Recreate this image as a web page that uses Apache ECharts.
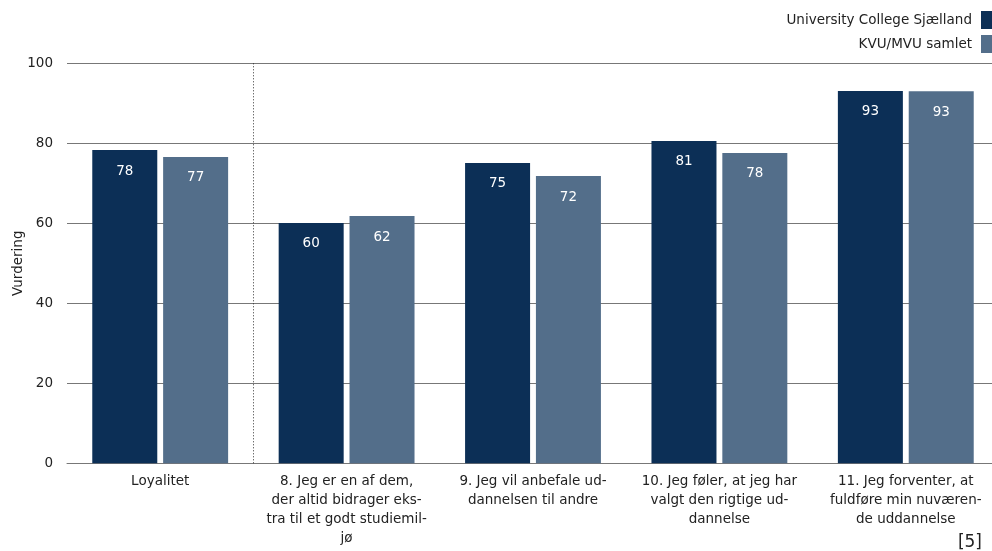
<!DOCTYPE html>
<html>
<head>
<meta charset="utf-8">
<script src="https://cdn.jsdelivr.net/npm/echarts@6/dist/echarts.min.js"></script>
<style>
html,body{margin:0;padding:0;background:#fff;}
#c{width:992px;height:551px;}
</style>
</head>
<body>
<div id="c"></div>
<script>
const categories = [
  'Loyalitet',
  '8. Jeg er en af dem,\nder altid bidrager eks-\ntra til et godt studiemil-\njø',
  '9. Jeg vil anbefale ud-\ndannelsen til andre',
  '10. Jeg føler, at jeg har\nvalgt den rigtige ud-\ndannelse',
  '11. Jeg forventer, at\nfuldføre min nuværen-\nde uddannelse'
];
const seriesNames = ['University College Sjælland', 'KVU/MVU samlet'];
const ucsValues = [78.3, 60.1, 75.1, 80.6, 93.1];
const kvuValues = [76.6, 61.8, 71.8, 77.6, 93.0];
const yTicks = { min: 0, max: 100, interval: 20 };
// separator between the "Loyalitet" summary and the individual questions (category boundary index)
const separatorBoundary = 1;

const FONT = 'DejaVu Sans';
const chart = echarts.init(document.getElementById('c'), null, { renderer: 'canvas' });

const labelCfg = {
  show: true,
  position: 'insideTop',
  distance: 14,
  color: '#ffffff',
  fontFamily: FONT,
  fontSize: 13.5,
  formatter: p => Math.round(p.value)
};

chart.setOption({
  animation: false,
  backgroundColor: '#ffffff',
  textStyle: { fontFamily: FONT },
  legend: {
    orient: 'vertical',
    right: 0,
    top: 11,
    padding: 0,
    align: 'right',
    itemWidth: 11,
    itemHeight: 18,
    itemGap: 6,
    icon: 'rect',
    textStyle: { fontFamily: FONT, fontSize: 13.5, color: '#222', padding: [0, 4, 0, 0] },
    data: seriesNames
  },
  grid: { left: 67, right: -7, top: 63.3, bottom: 87.7, outerBoundsMode: 'none', containLabel: false },
  xAxis: [
    {
      type: 'category',
      data: categories,
      boundaryGap: true,
      axisLine: { show: true, lineStyle: { color: '#777', width: 1 } },
      axisTick: { show: false },
      axisLabel: {
        interval: 0,
        margin: 9,
        color: '#222',
        fontFamily: FONT,
        fontSize: 13.5,
        lineHeight: 19,
        align: 'center'
      },
      splitLine: { show: false }
    },
    {
      type: 'value',
      min: 0,
      max: categories.length,
      show: false,
      splitLine: { show: false }
    }
  ],
  yAxis: {
    type: 'value',
    min: yTicks.min,
    max: yTicks.max,
    interval: yTicks.interval,
    name: 'Vurdering',
    nameLocation: 'middle',
    nameGap: 42,
    nameMoveOverlap: false,
    nameRotate: 90,
    nameTextStyle: { fontFamily: FONT, fontSize: 13.5, color: '#222' },
    axisLine: { show: false },
    axisTick: { show: false },
    axisLabel: { margin: 14, color: '#222', fontFamily: FONT, fontSize: 13.5 },
    splitLine: { show: true, lineStyle: { color: '#777', width: 1 } }
  },
  series: [
    {
      name: seriesNames[0],
      type: 'bar',
      data: ucsValues,
      barWidth: 65,
      barGap: '9%',
      itemStyle: { color: '#0c2f56' },
      label: labelCfg
    },
    {
      name: seriesNames[1],
      type: 'bar',
      data: kvuValues,
      barWidth: 65,
      barGap: '9%',
      itemStyle: { color: '#536e8a' },
      label: labelCfg
    },
    {
      name: 'separator',
      type: 'line',
      xAxisIndex: 1,
      data: [],
      silent: true,
      markLine: {
        silent: true,
        symbol: 'none',
        label: { show: false },
        lineStyle: { type: [1, 2], color: '#333', width: 1 },
        data: [{ xAxis: separatorBoundary }]
      }
    }
  ],
  graphic: [
    {
      type: 'text',
      right: 10,
      bottom: 0,
      style: { text: '[5]', fontFamily: FONT, fontSize: 17, fill: '#222' }
    }
  ]
});
</script>
</body>
</html>
